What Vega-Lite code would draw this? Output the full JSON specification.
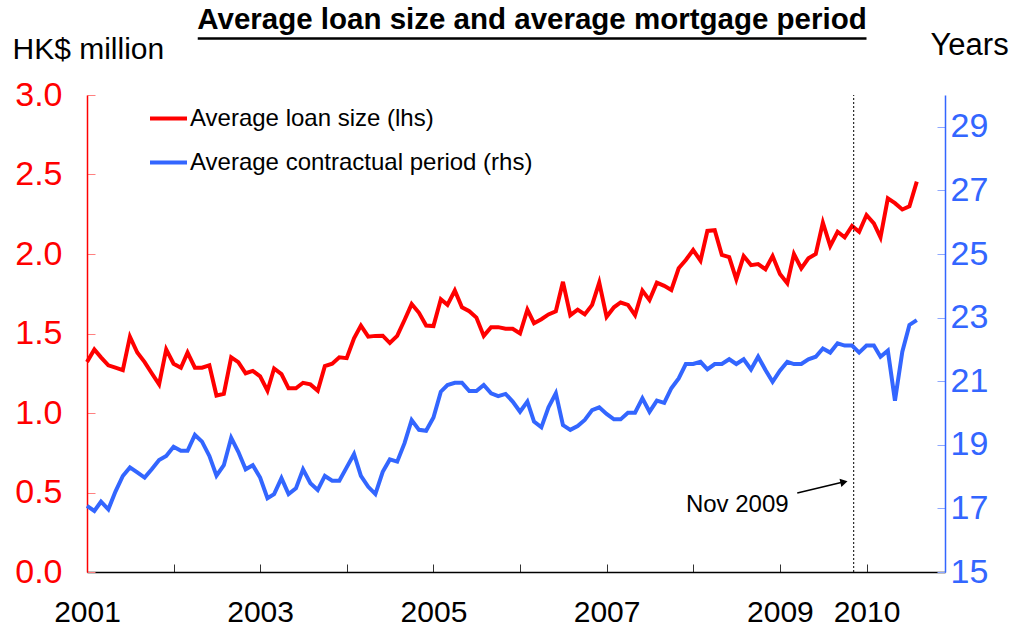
{
  "$schema": "https://vega.github.io/schema/vega-lite/v6.json",
  "width": 858,
  "height": 477,
  "autosize": "none",
  "padding": {"left": 87, "top": 95, "right": 70, "bottom": 62},
  "background": "white",
  "config": {"font": "Liberation Sans", "view": {"stroke": null}},
  "title": {"text": "Average loan size and average mortgage period", "fontSize": 29.5, "fontWeight": "bold", "color": "black", "anchor": "middle", "frame": "group", "dx": 16, "dy": 6, "offset": 0},
  "data": {"values": [
    {"d":"2001-01-01","loan":1.32,"period":17.08},{"d":"2001-02-01","loan":1.40,"period":16.92},{"d":"2001-03-01","loan":1.35,"period":17.21},{"d":"2001-04-01","loan":1.30,"period":16.97},{"d":"2001-05-01","loan":1.285,"period":17.53},{"d":"2001-06-01","loan":1.27,"period":18.02},{"d":"2001-07-01","loan":1.48,"period":18.29},{"d":"2001-08-01","loan":1.38,"period":18.13},{"d":"2001-09-01","loan":1.32,"period":17.97},{"d":"2001-10-01","loan":1.25,"period":18.23},{"d":"2001-11-01","loan":1.18,"period":18.52},{"d":"2001-12-01","loan":1.40,"period":18.65},
    {"d":"2002-01-01","loan":1.31,"period":18.94},{"d":"2002-02-01","loan":1.285,"period":18.81},{"d":"2002-03-01","loan":1.38,"period":18.81},{"d":"2002-04-01","loan":1.285,"period":19.31},{"d":"2002-05-01","loan":1.285,"period":19.10},{"d":"2002-06-01","loan":1.30,"period":18.65},{"d":"2002-07-01","loan":1.11,"period":18.03},{"d":"2002-08-01","loan":1.12,"period":18.36},{"d":"2002-09-01","loan":1.35,"period":19.22},{"d":"2002-10-01","loan":1.32,"period":18.78},{"d":"2002-11-01","loan":1.25,"period":18.23},{"d":"2002-12-01","loan":1.265,"period":18.36},
    {"d":"2003-01-01","loan":1.23,"period":17.97},{"d":"2003-02-01","loan":1.14,"period":17.32},{"d":"2003-03-01","loan":1.28,"period":17.45},{"d":"2003-04-01","loan":1.245,"period":17.95},{"d":"2003-05-01","loan":1.155,"period":17.45},{"d":"2003-06-01","loan":1.155,"period":17.63},{"d":"2003-07-01","loan":1.19,"period":18.23},{"d":"2003-08-01","loan":1.18,"period":17.79},{"d":"2003-09-01","loan":1.14,"period":17.58},{"d":"2003-10-01","loan":1.295,"period":18.02},{"d":"2003-11-01","loan":1.31,"period":17.87},{"d":"2003-12-01","loan":1.35,"period":17.87},
    {"d":"2004-01-01","loan":1.345,"period":18.29},{"d":"2004-02-01","loan":1.47,"period":18.71},{"d":"2004-03-01","loan":1.55,"period":18.02},{"d":"2004-04-01","loan":1.48,"period":17.68},{"d":"2004-05-01","loan":1.485,"period":17.45},{"d":"2004-06-01","loan":1.486,"period":18.15},{"d":"2004-07-01","loan":1.44,"period":18.54},{"d":"2004-08-01","loan":1.485,"period":18.47},{"d":"2004-09-01","loan":1.585,"period":19.05},{"d":"2004-10-01","loan":1.685,"period":19.78},{"d":"2004-11-01","loan":1.63,"period":19.47},{"d":"2004-12-01","loan":1.55,"period":19.44},
    {"d":"2005-01-01","loan":1.547,"period":19.86},{"d":"2005-02-01","loan":1.715,"period":20.67},{"d":"2005-03-01","loan":1.68,"period":20.88},{"d":"2005-04-01","loan":1.77,"period":20.95},{"d":"2005-05-01","loan":1.665,"period":20.95},{"d":"2005-06-01","loan":1.64,"period":20.69},{"d":"2005-07-01","loan":1.60,"period":20.69},{"d":"2005-08-01","loan":1.485,"period":20.88},{"d":"2005-09-01","loan":1.54,"period":20.62},{"d":"2005-10-01","loan":1.54,"period":20.53},{"d":"2005-11-01","loan":1.53,"period":20.60},{"d":"2005-12-01","loan":1.53,"period":20.36},
    {"d":"2006-01-01","loan":1.50,"period":20.04},{"d":"2006-02-01","loan":1.65,"period":20.36},{"d":"2006-03-01","loan":1.565,"period":19.73},{"d":"2006-04-01","loan":1.59,"period":19.55},{"d":"2006-05-01","loan":1.62,"period":20.18},{"d":"2006-06-01","loan":1.64,"period":20.62},{"d":"2006-07-01","loan":1.825,"period":19.62},{"d":"2006-08-01","loan":1.615,"period":19.47},{"d":"2006-09-01","loan":1.65,"period":19.59},{"d":"2006-10-01","loan":1.62,"period":19.78},{"d":"2006-11-01","loan":1.68,"period":20.09},{"d":"2006-12-01","loan":1.82,"period":20.18},
    {"d":"2007-01-01","loan":1.605,"period":19.97},{"d":"2007-02-01","loan":1.665,"period":19.80},{"d":"2007-03-01","loan":1.695,"period":19.80},{"d":"2007-04-01","loan":1.68,"period":20.01},{"d":"2007-05-01","loan":1.615,"period":20.01},{"d":"2007-06-01","loan":1.77,"period":20.46},{"d":"2007-07-01","loan":1.71,"period":20.04},{"d":"2007-08-01","loan":1.82,"period":20.39},{"d":"2007-09-01","loan":1.80,"period":20.32},{"d":"2007-10-01","loan":1.774,"period":20.78},{"d":"2007-11-01","loan":1.91,"period":21.09},{"d":"2007-12-01","loan":1.962,"period":21.54},
    {"d":"2008-01-01","loan":2.025,"period":21.54},{"d":"2008-02-01","loan":1.958,"period":21.61},{"d":"2008-03-01","loan":2.145,"period":21.37},{"d":"2008-04-01","loan":2.15,"period":21.54},{"d":"2008-05-01","loan":1.994,"period":21.54},{"d":"2008-06-01","loan":1.98,"period":21.69},{"d":"2008-07-01","loan":1.84,"period":21.54},{"d":"2008-08-01","loan":1.987,"period":21.69},{"d":"2008-09-01","loan":1.93,"period":21.37},{"d":"2008-10-01","loan":1.937,"period":21.77},{"d":"2008-11-01","loan":1.904,"period":21.35},{"d":"2008-12-01","loan":1.987,"period":20.98},
    {"d":"2009-01-01","loan":1.874,"period":21.33},{"d":"2009-02-01","loan":1.816,"period":21.61},{"d":"2009-03-01","loan":2.0,"period":21.54},{"d":"2009-04-01","loan":1.91,"period":21.54},{"d":"2009-05-01","loan":1.973,"period":21.69},{"d":"2009-06-01","loan":2.0,"period":21.77},{"d":"2009-07-01","loan":2.197,"period":22.03},{"d":"2009-08-01","loan":2.05,"period":21.90},{"d":"2009-09-01","loan":2.14,"period":22.19},{"d":"2009-10-01","loan":2.105,"period":22.12},{"d":"2009-11-01","loan":2.176,"period":22.12},{"d":"2009-12-01","loan":2.14,"period":21.90},
    {"d":"2010-01-01","loan":2.245,"period":22.12},{"d":"2010-02-01","loan":2.193,"period":22.12},{"d":"2010-03-01","loan":2.105,"period":21.77},{"d":"2010-04-01","loan":2.35,"period":21.96},{"d":"2010-05-01","loan":2.32,"period":20.39},{"d":"2010-06-01","loan":2.28,"period":21.93},{"d":"2010-07-01","loan":2.30,"period":22.77},{"d":"2010-08-01","loan":2.455,"period":22.92}
  ]},
  "layer": [
    {
      "layer": [
        {
          "mark": {"type": "line", "strokeWidth": 4, "strokeJoin": "miter"},
          "encoding": {
            "x": {"field": "d", "type": "temporal",
              "scale": {"type": "utc", "domain": [{"year": 2001, "month": 1, "date": 1, "utc": true}, {"year": 2010, "month": 11, "date": 28, "utc": true}]},
              "axis": {"orient": "bottom", "title": null, "grid": false,
                "values": [{"year": 2001, "month": 1, "date": 1, "utc": true}, {"year": 2002, "month": 1, "date": 1, "utc": true}, {"year": 2003, "month": 1, "date": 1, "utc": true}, {"year": 2004, "month": 1, "date": 1, "utc": true}, {"year": 2005, "month": 1, "date": 1, "utc": true}, {"year": 2006, "month": 1, "date": 1, "utc": true}, {"year": 2007, "month": 1, "date": 1, "utc": true}, {"year": 2008, "month": 1, "date": 1, "utc": true}, {"year": 2009, "month": 1, "date": 1, "utc": true}, {"year": 2010, "month": 1, "date": 1, "utc": true}],
                "format": "%Y",
                "labelExpr": "indexof(['2002','2004','2006','2008'], datum.label) >= 0 ? '' : datum.label",
                "labelFontSize": 30, "labelColor": "black", "labelPadding": 33, "labelOverlap": false, "labelFlush": false,
                "tickSize": -8, "tickColor": "#333333", "tickWidth": 1, "domainColor": "black", "domainWidth": 1.5}},
            "y": {"field": "loan", "type": "quantitative",
              "scale": {"domain": [0, 3], "nice": false, "zero": false},
              "axis": {"orient": "left", "values": [0, 0.5, 1, 1.5, 2, 2.5, 3], "format": ".1f", "grid": false,
                "labelFontSize": 34, "labelColor": "#FF0000", "labelPadding": 33,
                "tickSize": -8, "tickColor": "#FF8080", "domainColor": "#FF0000", "domainWidth": 1.5,
                "title": "HK$ million", "titleAngle": 0, "titleAlign": "left", "titleBaseline": "alphabetic", "titleX": -75, "titleY": -37, "titleFontSize": 30, "titleFontWeight": "normal", "titleColor": "black"}},
            "color": {"datum": "Average loan size (lhs)",
              "scale": {"domain": ["Average loan size (lhs)", "Average contractual period (rhs)"], "range": ["#FF0000", "#3366FF"]},
              "legend": {"orient": "none", "legendX": 61, "legendY": 3, "title": null, "padding": 0, "symbolType": "stroke", "symbolSize": 1369, "symbolStrokeWidth": 4, "labelFontSize": 24, "labelColor": "black", "labelLimit": 0, "rowPadding": 11, "labelOffset": 1}}
          }
        },
        {
          "data": {"values": [{}]},
          "mark": {"type": "rule", "strokeWidth": 2.5, "color": "black"},
          "encoding": {
            "x": {"datum": {"year": 2002, "month": 4, "date": 13, "utc": true}, "type": "temporal"},
            "x2": {"datum": {"year": 2010, "month": 1, "date": 1, "utc": true}},
            "y": {"datum": 3.355, "type": "quantitative"}
          }
        },
        {
          "data": {"values": [{}]},
          "mark": {"type": "rule", "strokeWidth": 1, "color": "black", "strokeDash": [2, 2]},
          "encoding": {
            "x": {"datum": {"year": 2009, "month": 11, "date": 8, "utc": true}, "type": "temporal"},
            "y": {"datum": 0, "type": "quantitative"},
            "y2": {"datum": 3}
          }
        },
        {
          "data": {"values": [{}]},
          "mark": {"type": "rule", "strokeWidth": 1.5, "color": "black"},
          "encoding": {
            "x": {"datum": {"year": 2009, "month": 3, "date": 15, "utc": true}, "type": "temporal"},
            "x2": {"datum": {"year": 2009, "month": 9, "date": 25, "utc": true}},
            "y": {"datum": 0.497, "type": "quantitative"},
            "y2": {"datum": 0.566}
          }
        },
        {
          "data": {"values": [{}]},
          "mark": {"type": "point", "shape": "triangle-right", "filled": true, "color": "black", "size": 70, "angle": -13, "opacity": 1},
          "encoding": {
            "x": {"datum": {"year": 2009, "month": 9, "date": 28, "utc": true}, "type": "temporal"},
            "y": {"datum": 0.566, "type": "quantitative"}
          }
        },
        {
          "data": {"values": [{}]},
          "mark": {"type": "text", "fontSize": 24, "color": "black", "align": "center", "baseline": "middle"},
          "encoding": {
            "x": {"datum": {"year": 2008, "month": 7, "date": 5, "utc": true}, "type": "temporal"},
            "y": {"datum": 0.42, "type": "quantitative"},
            "text": {"value": "Nov 2009"}
          }
        }
      ]
    },
    {
      "mark": {"type": "line", "strokeWidth": 4, "strokeJoin": "miter"},
      "encoding": {
        "x": {"field": "d", "type": "temporal"},
        "y": {"field": "period", "type": "quantitative",
          "scale": {"domain": [15, 30], "nice": false, "zero": false},
          "axis": {"orient": "right", "values": [15, 17, 19, 21, 23, 25, 27, 29], "grid": false,
            "labelFontSize": 34, "labelColor": "#3366FF", "labelPadding": 13,
            "tickSize": -8, "tickColor": "#8FA8FF", "domainColor": "#3366FF", "domainWidth": 1.5,
            "title": "Years", "titleAngle": 0, "titleAlign": "left", "titleBaseline": "alphabetic", "titleX": -15, "titleY": -41, "titleFontSize": 31, "titleFontWeight": "normal", "titleColor": "black"}},
        "color": {"datum": "Average contractual period (rhs)"}
      }
    }
  ],
  "resolve": {"scale": {"y": "independent"}}
}
